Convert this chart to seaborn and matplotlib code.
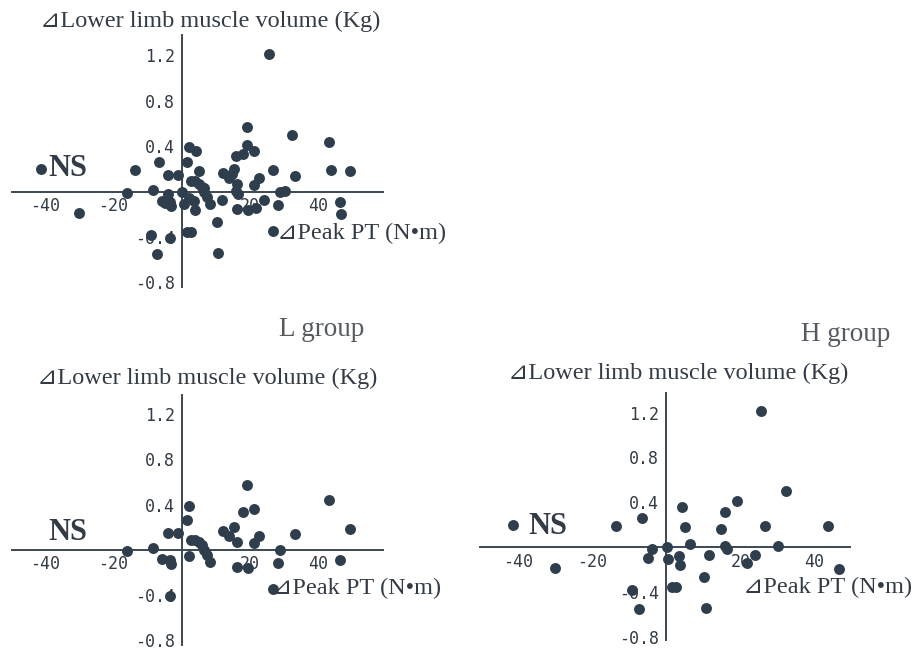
import matplotlib
matplotlib.use("Agg")
import matplotlib.pyplot as plt
import seaborn as sns
import pandas as pd

# ---- data ----
L_x = [-16.1, -8.3, -5.9, -4.1, -3.4, -3.1, -3.4, -1.0, 1.5, 2.0, 2.1, 2.6, 3.9, 5.1,
       5.9, 6.5, 7.3, 8.3, 12.2, 13.7, 15.4, 16.1, 16.1, 18.0, 19.2, 19.5, 21.2, 21.0,
       22.7, 26.6, 28.3, 28.8, 33.2, 43.2, 46.3, 49.1]
L_y = [-0.015, 0.015, -0.08, 0.146, -0.09, -0.13, -0.41, 0.146, 0.26, 0.39, -0.06, 0.09,
       0.09, 0.07, 0.044, 0.0, -0.044, -0.11, 0.166, 0.117, 0.2, 0.07, -0.15, 0.33, 0.57,
       -0.16, 0.36, 0.058, 0.117, -0.35, -0.117, 0.0, 0.14, 0.44, -0.088, 0.18]

H_x = [-41.3, -30.0, -13.6, -6.6, -3.9, -4.8, -9.1, -7.3, 0.2, 0.6, 3.6, 3.8, 4.2, 5.0,
       6.5, 1.6, 2.6, 10.3, 10.7, 11.7, 14.8, 15.9, 15.9, 16.5, 19.1, 21.8, 24.0, 25.6,
       26.7, 30.3, 32.3, 43.6, 46.5]
H_y = [0.20, -0.19, 0.19, 0.26, -0.02, -0.10, -0.38, -0.55, 0.0, -0.11, -0.08, -0.16,
       0.355, 0.178, 0.03, -0.355, -0.355, -0.27, -0.54, -0.07, 0.157, 0.31, 0.01, -0.02,
       0.415, -0.14, -0.07, 1.21, 0.19, 0.005, 0.50, 0.19, -0.20]

x_ticks = [-40, -20, 20, 40]
y_ticks = [-0.8, -0.4, 0.4, 0.8, 1.2]
y_tick_labels = ["-0.8", "-0.4", "0.4", "0.8", "1.2"]

y_title = "\u22bfLower limb muscle volume (Kg)"
x_title = "\u22bfPeak PT (N\u2022m)"
group_titles = ["L group", "H group"]

df_L = pd.DataFrame({"x": L_x, "y": L_y})
df_H = pd.DataFrame({"x": H_x, "y": H_y})
df_all = pd.concat([df_L, df_H], ignore_index=True)

sns.set_style("white")
plt.rcParams["font.family"] = ["DejaVu Sans"]

W, Hh = 917, 656
fig = plt.figure(figsize=(W / 100, Hh / 100), dpi=100)
fig.patch.set_facecolor("white")

DOT = "#2f3e4d"
AX = "#3d4752"
TXT = "#333c46"
serif = ["Liberation Serif", "DejaVu Serif", "DejaVu Sans"]


def px_axes(l, t, r, b):
    return fig.add_axes([l / W, 1 - b / Hh, (r - l) / W, (b - t) / Hh])


def ftext(x, y, s, **kw):
    fig.text(x / W, 1 - y / Hh, s, **kw)


def panel(l, t, r, b, xlim, ylim, data):
    ax = px_axes(l, t, r, b)
    ax.set_facecolor("none")
    sns.scatterplot(data=data, x="x", y="y", ax=ax, color=DOT, s=62,
                    edgecolor=DOT, linewidth=0, legend=False, zorder=3)
    ax.set_xlim(*xlim)
    ax.set_ylim(*ylim)
    for side in ["top", "right"]:
        ax.spines[side].set_visible(False)
    for side in ["left", "bottom"]:
        ax.spines[side].set_position(("data", 0))
        ax.spines[side].set_color(AX)
        ax.spines[side].set_linewidth(1.4)
        ax.spines[side].set_zorder(2)
    ax.set_xticks(x_ticks)
    ax.set_xticklabels([str(v) for v in x_ticks])
    ax.set_yticks(y_ticks)
    ax.set_yticklabels(y_tick_labels)
    ax.tick_params(axis="both", direction="in", length=4, width=1.2, color=AX,
                   labelcolor=TXT, labelsize=12)
    ax.tick_params(axis="x", pad=4)
    ax.tick_params(axis="y", pad=5)
    for lab in ax.get_xticklabels() + ax.get_yticklabels():
        lab.set_family("DejaVu Sans Mono")
    ax.set_xlabel("")
    ax.set_ylabel("")
    return ax


# top panel: all subjects
panel(12, 35, 383, 287, (-49.7, 58.9), (-0.84, 1.38), df_all)
# L group
panel(12, 395, 383, 645, (-49.7, 58.9), (-0.844, 1.37), df_L)
# H group
panel(480, 393, 850, 640, (-50.2, 49.6), (-0.83, 1.375), df_H)

# axis titles
for (x, y) in [(40, 21), (37, 378), (508, 373)]:
    ftext(x, y, y_title, family=serif, fontsize=17.5, color=TXT, ha="left", va="center")
for (x, y) in [(277, 233), (272, 588), (743, 587)]:
    ftext(x, y, x_title, family=serif, fontsize=17.5, color=TXT, ha="left", va="center")

# NS annotations
for (x, y) in [(48, 168), (48, 532), (528, 527)]:
    ftext(x, y, "NS", family=serif, fontsize=22, fontweight="bold", color=TXT,
          ha="left", va="center")

# group titles
ftext(322, 330, group_titles[0], family=serif, fontsize=19.5, color="#555a60",
      ha="center", va="center")
ftext(846, 335, group_titles[1], family=serif, fontsize=19.5, color="#555a60",
      ha="center", va="center")

fig.savefig("out.png", dpi=100, facecolor="white")
